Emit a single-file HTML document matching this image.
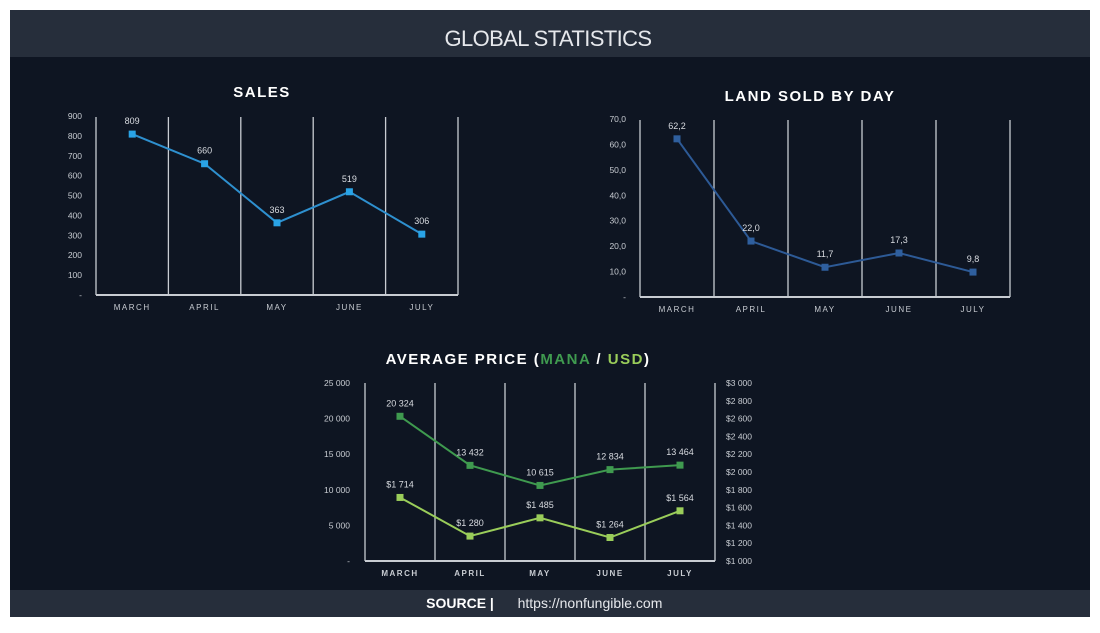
<!DOCTYPE html>
<html><head><meta charset="utf-8"><style>
body{margin:0;background:#fff;width:1100px;height:628px;overflow:hidden;font-family:"Liberation Sans",sans-serif}
svg text{font-family:"Liberation Sans",sans-serif}
</style></head><body>
<svg id="s" width="1100" height="628">
<rect x="10" y="10" width="1080" height="607" fill="#0e1522"/>
<rect x="10" y="10" width="1080" height="47" fill="#262e3b"/>
<text x="548" y="46" text-anchor="middle" fill="#e6e8ec" font-size="22" letter-spacing="-0.6">GLOBAL STATISTICS</text>
<rect x="10" y="590" width="1080" height="27" fill="#262e3b"/>
<text x="460" y="608" text-anchor="middle" fill="#fff" font-size="14" font-weight="bold">SOURCE |</text>
<text x="590" y="608" text-anchor="middle" fill="#e6e8ec" font-size="14">https://nonfungible.com</text>
<text x="262" y="97" text-anchor="middle" fill="#fff" font-size="15" font-weight="bold" letter-spacing="1.5">SALES</text>
<text x="810" y="101" text-anchor="middle" fill="#fff" font-size="15" font-weight="bold" letter-spacing="1.5">LAND SOLD BY DAY</text>
<text x="518" y="364" text-anchor="middle" font-size="15" font-weight="bold" letter-spacing="1.5" fill="#fff">AVERAGE PRICE (<tspan fill="#3f9a4f">MANA</tspan> / <tspan fill="#9acd5a">USD</tspan>)</text>
<g id="g"></g>
</svg>
<script>
const months=["MARCH","APRIL","MAY","JUNE","JULY"];
const sales=[809,660,363,519,306];
const salesTicks=["-","100","200","300","400","500","600","700","800","900"];
const land=[62.2,22.0,11.7,17.3,9.8];
const landTicks=["-","10,0","20,0","30,0","40,0","50,0","60,0","70,0"];
const mana=[20324,13432,10615,12834,13464];
const manaTicks=["-","5 000","10 000","15 000","20 000","25 000"];
const usd=[1714,1280,1485,1264,1564];
const usdTicks=["$1 000","$1 200","$1 400","$1 600","$1 800","$2 000","$2 200","$2 400","$2 600","$2 800","$3 000"];
const NS="http://www.w3.org/2000/svg",G=document.getElementById('g');
function el(t,a,txt){const e=document.createElementNS(NS,t);for(const k in a)e.setAttribute(k,a[k]);if(txt!==undefined)e.textContent=txt;G.appendChild(e);return e;}
function frame(x0,x1,yT,yB,name,bold){
  const w=(x1-x0)/months.length;
  for(let i=0;i<=months.length;i++){const l=el('line',{x1:x0+i*w,x2:x0+i*w,y1:yT,y2:yB,stroke:'#c8ccd2','stroke-width':1.3});
    
    }
  const b=el('line',{x1:x0,x2:x1,y1:yB,y2:yB,stroke:'#c8ccd2','stroke-width':2});
  
  
  months.forEach((m,i)=>{const t=el('text',{x:x0+w*(i+.5),y:yB+15,'text-anchor':'middle',fill:'#c8ccd2','font-size':8,'letter-spacing':1.5,'font-weight':bold?'bold':'normal'},m);
    
    });
  return i=>x0+w*(i+.5);
}
function yticks(ticks,x,yT,yB,anchor,name){
  ticks.forEach((t,i)=>{const e=el('text',{x:x,y:yB-(yB-yT)*i/(ticks.length-1)+3,'text-anchor':anchor,fill:'#c8ccd2','font-size':8.5},t);
    
    });
}
function series(vals,xf,yf,color,mcolor,labels,name,dy){
  el('polyline',{points:vals.map((v,i)=>xf(i)+','+yf(v)).join(' '),fill:'none',stroke:color,'stroke-width':2});
  vals.forEach((v,i)=>{const r=el('rect',{x:xf(i)-3.5,y:yf(v)-3.5,width:7,height:7,fill:mcolor});
    
    
    const t=el('text',{x:xf(i),y:yf(v)-(dy||10),'text-anchor':'middle',fill:'#d8dbe0','font-size':9},labels(v));
    
    });
}
let xs=frame(96,458,117,295,'sales');
yticks(salesTicks,82,116,295,'end','sales');
series(sales,xs,v=>295-v/900*179,'#2e90cf','#29a3e6',v=>String(v),'sales');
let xl=frame(640,1010,120,297,'land');
yticks(landTicks,626,119,297,'end','land');
series(land,xl,v=>297-v/70*178,'#2d5a96','#2f5f9e',v=>v.toFixed(1).replace('.',','),'land');
let xp=frame(365,715,383,561,'price',true);
yticks(manaTicks,350,383,561,'end','mana');
yticks(usdTicks,726,383,561,'start','usd');
const fmt=v=>String(v).replace(/\B(?=(\d{3})+(?!\d))/g,' ');
series(mana,xp,v=>561-v/25000*178,'#3f9a4f','#3f9a4f',fmt,'mana');
series(usd,xp,v=>561-(v-1000)/2000*178,'#9acd5a','#9acd5a',v=>'$'+fmt(v),'usd');
</script>
</body></html>
